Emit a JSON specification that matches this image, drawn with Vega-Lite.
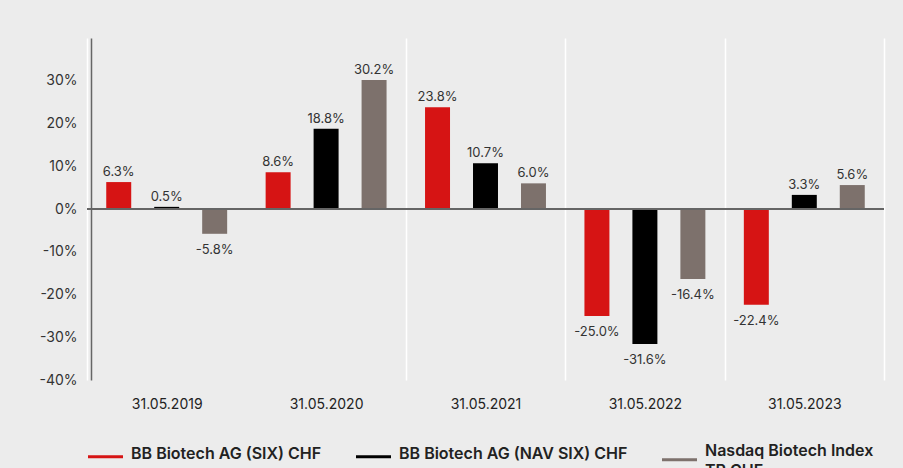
{
  "$schema": "https://vega.github.io/schema/vega-lite/v6.json",
  "width": 797,
  "height": 342,
  "autosize": {"type": "none"},
  "padding": {"left": 87, "top": 38, "right": 19, "bottom": 88},
  "background": "#ececec",
  "config": {
    "view": {"stroke": null},
    "font": "Inter",
    "locale": {"number": {"decimal": ".", "thousands": ",", "grouping": [3], "currency": ["$", ""], "minus": "-"}}
  },
  "data": {
    "values": [
      {"date": "31.05.2019", "series": "BB Biotech AG (SIX) CHF", "value": 0.063},
      {"date": "31.05.2019", "series": "BB Biotech AG (NAV SIX) CHF", "value": 0.005},
      {"date": "31.05.2019", "series": "Nasdaq Biotech Index TR CHF", "value": -0.058},
      {"date": "31.05.2020", "series": "BB Biotech AG (SIX) CHF", "value": 0.086},
      {"date": "31.05.2020", "series": "BB Biotech AG (NAV SIX) CHF", "value": 0.188},
      {"date": "31.05.2020", "series": "Nasdaq Biotech Index TR CHF", "value": 0.302},
      {"date": "31.05.2021", "series": "BB Biotech AG (SIX) CHF", "value": 0.238},
      {"date": "31.05.2021", "series": "BB Biotech AG (NAV SIX) CHF", "value": 0.107},
      {"date": "31.05.2021", "series": "Nasdaq Biotech Index TR CHF", "value": 0.060},
      {"date": "31.05.2022", "series": "BB Biotech AG (SIX) CHF", "value": -0.250},
      {"date": "31.05.2022", "series": "BB Biotech AG (NAV SIX) CHF", "value": -0.316},
      {"date": "31.05.2022", "series": "Nasdaq Biotech Index TR CHF", "value": -0.164},
      {"date": "31.05.2023", "series": "BB Biotech AG (SIX) CHF", "value": -0.224},
      {"date": "31.05.2023", "series": "BB Biotech AG (NAV SIX) CHF", "value": 0.033},
      {"date": "31.05.2023", "series": "Nasdaq Biotech Index TR CHF", "value": 0.056}
    ]
  },
  "layer": [
    {
      "mark": {"type": "bar"},
      "encoding": {
        "x": {
          "field": "date", "type": "nominal", "sort": null,
          "scale": {"paddingInner": 0, "paddingOuter": 0},
          "axis": {
            "title": null, "domain": false, "ticks": false, "labelAngle": 0,
            "labelFontSize": 14, "labelColor": "#222", "labelPadding": 17,
            "grid": true, "tickBand": "extent",
            "gridColor": {"condition": {"test": "datum.value == '31.05.2019'", "value": "transparent"}, "value": "#ffffff"},
            "gridWidth": 1.5
          }
        },
        "xOffset": {
          "field": "series", "type": "nominal", "sort": null,
          "scale": {"paddingInner": 0.4792, "paddingOuter": 0.401}
        },
        "y": {
          "field": "value", "type": "quantitative",
          "scale": {"domain": [-0.4, 0.4], "nice": false},
          "axis": {
            "title": null, "format": ".0%", "values": [-0.4, -0.3, -0.2, -0.1, 0, 0.1, 0.2, 0.3],
            "grid": false, "ticks": false, "offset": -4,
            "domainColor": "#666", "domainWidth": 1.5,
            "labelFontSize": 14, "labelColor": "#333", "labelPadding": 14
          }
        },
        "color": {
          "field": "series", "type": "nominal",
          "scale": {
            "domain": ["BB Biotech AG (SIX) CHF", "BB Biotech AG (NAV SIX) CHF", "Nasdaq Biotech Index TR CHF"],
            "range": ["#d61414", "#000000", "#7d716c"]
          },
          "legend": {
            "title": null, "orient": "none", "direction": "horizontal",
            "legendX": 1, "legendY": 401,
            "symbolType": "M-1,-0.086 L1,-0.086 L1,0.086 L-1,0.086 Z",
            "symbolSize": 1225, "symbolStrokeWidth": 0, "symbolOpacity": 1,
            "labelFontSize": 16, "labelFontWeight": 600, "labelColor": "#222",
            "labelOffset": 8, "columnPadding": 34, "labelLimit": 400,
            "labelExpr": "datum.value == 'Nasdaq Biotech Index TR CHF' ? ['Nasdaq Biotech Index', 'TR CHF'] : [datum.label, '']",
            "encode": {"labels": {"update": {
              "lineHeight": {"value": 20},
              "dy": {"signal": "datum.value == 'Nasdaq Biotech Index TR CHF' ? -9 : -3"}
            }}}
          }
        }
      }
    },
    {
      "mark": {"type": "rule", "color": "#666", "strokeWidth": 1.5},
      "encoding": {"y": {"datum": 0}}
    },
    {
      "transform": [{"filter": "datum.value >= 0"}],
      "mark": {"type": "text", "baseline": "bottom", "dy": -3, "fontSize": 13, "color": "#333"},
      "encoding": {
        "x": {"field": "date", "type": "nominal", "sort": null},
        "xOffset": {"field": "series", "type": "nominal", "sort": null},
        "y": {"field": "value", "type": "quantitative"},
        "text": {"field": "value", "type": "quantitative", "format": ".1%"}
      }
    },
    {
      "transform": [{"filter": "datum.value < 0"}],
      "mark": {"type": "text", "baseline": "top", "dy": 10, "fontSize": 13, "color": "#333"},
      "encoding": {
        "x": {"field": "date", "type": "nominal", "sort": null},
        "xOffset": {"field": "series", "type": "nominal", "sort": null},
        "y": {"field": "value", "type": "quantitative"},
        "text": {"field": "value", "type": "quantitative", "format": ".1%"}
      }
    }
  ]
}
